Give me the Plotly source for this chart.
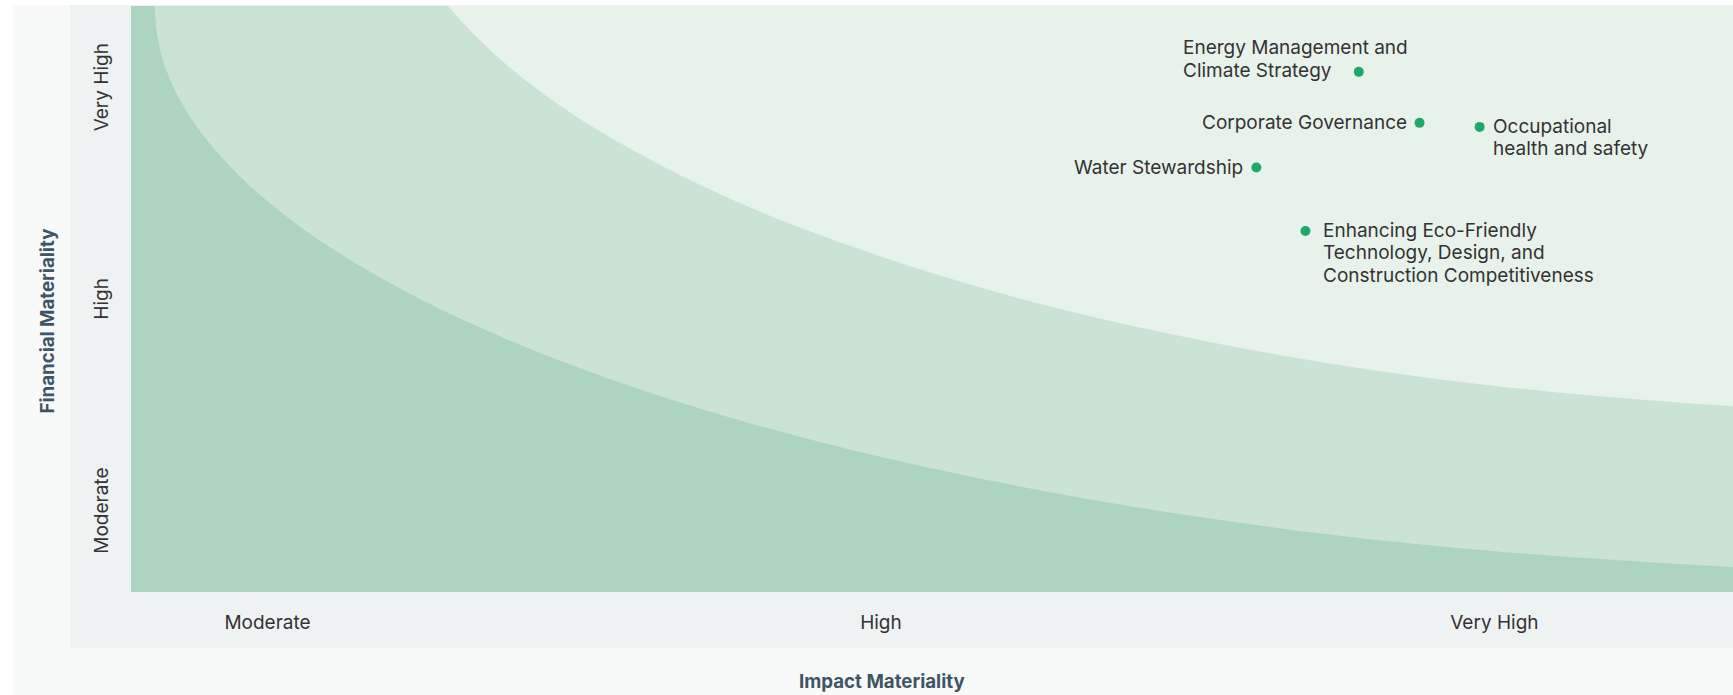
import plotly.graph_objects as go

# ---------------- data ----------------
x_levels = ["Moderate", "High", "Very High"]
y_levels = ["Moderate", "High", "Very High"]

topics = [
    "Energy Management and<br>Climate Strategy",
    "Corporate Governance",
    "Water Stewardship",
    "Occupational<br>health and safety",
    "Enhancing Eco-Friendly<br>Technology, Design, and<br>Construction Competitiveness",
]
impact = [2.779, 2.878, 2.612, 2.976, 2.692]
financial = [3.086, 2.845, 2.634, 2.826, 2.334]

# zone boundaries (impact, financial); first/last points sit just outside the frame
inner_x = [0.8158, 0.8158, 0.8248, 0.8492, 0.8900, 0.9552, 1.0530, 1.1834, 1.3464, 1.5420,
           1.7865, 2.1126, 2.5201, 2.9276, 3.3890, 3.5797]
inner_y = [3.600, 3.3973, 3.1909, 2.9991, 2.8063, 2.5913, 2.3546, 2.1141, 1.8779, 1.6520,
           1.4266, 1.1942, 0.9830, 0.8403, 0.7468, 0.7274]
outer_x = [1.2453, 1.2942, 1.3790, 1.4768, 1.5746, 1.7050, 1.8680, 2.1126, 2.3571, 2.6831,
           3.0091, 3.3890, 3.5797]
outer_y = [3.600, 3.3973, 3.1465, 2.9272, 2.7496, 2.5526, 2.3503, 2.1094, 1.9213, 1.7323,
           1.6001, 1.5060, 1.4805]

# ---------------- styles ----------------
FONT = "Inter"
C_DARK = "#add4c0"
C_MID = "#cbe3d5"
C_LIGHT = "#e7f2eb"
C_DOT = "#20a86b"
C_TEXT = "#333333"
C_TITLE = "#3e5566"
FS = 19
FS_TITLE = 18.7
LH = 22.4

XR = [0.7775, 3.389]
YR = [0.629, 3.397]
LO_X, HI_X, LO_Y, HI_Y = 0.5, 3.6, 0.3, 3.6

fig = go.Figure()

# light zone (whole plot)
fig.add_trace(go.Scatter(
    x=[LO_X, HI_X, HI_X, LO_X], y=[LO_Y, LO_Y, HI_Y, HI_Y],
    fill="toself", fillcolor=C_LIGHT, mode="lines", line=dict(width=0),
    hoverinfo="skip", showlegend=False))

# middle zone: everything under the outer boundary
fig.add_trace(go.Scatter(
    x=[LO_X] + outer_x + [HI_X, LO_X],
    y=[HI_Y] + outer_y + [LO_Y, LO_Y],
    fill="toself", fillcolor=C_MID, mode="lines",
    line=dict(width=0, shape="spline", smoothing=1),
    hoverinfo="skip", showlegend=False))

# dark zone: everything under the inner boundary
fig.add_trace(go.Scatter(
    x=[LO_X] + inner_x + [HI_X, LO_X],
    y=[HI_Y] + inner_y + [LO_Y, LO_Y],
    fill="toself", fillcolor=C_DARK, mode="lines",
    line=dict(width=0, shape="spline", smoothing=1),
    hoverinfo="skip", showlegend=False))

# topics
fig.add_trace(go.Scatter(
    x=impact, y=financial, mode="markers",
    marker=dict(size=10, color=C_DOT, line=dict(width=0)),
    text=[t.replace("<br>", " ") for t in topics], hoverinfo="text",
    showlegend=False))

# label placement (style only)
label_anchor = ["left", "right", "right", "left", "left"]
label_xshift = [-178, -11, -11, 11, 16]
label_yshift = [1.5, 0.5, 0.5, 0.5, 0.5]
label_align_last = [True, False, False, False, False]   # dot level with last line
for t, x, y, anc, xs, y0, last in zip(topics, impact, financial, label_anchor,
                                       label_xshift, label_yshift, label_align_last):
    lines = t.split("<br>")
    n = len(lines)
    for i, ln in enumerate(lines):
        ys = (n - 1 - i) * LH if last else -i * LH
        fig.add_annotation(x=x, y=y, text=ln, showarrow=False, xanchor=anc,
                           yanchor="middle", align="left", xshift=xs,
                           yshift=ys + y0,
                           font=dict(family=FONT, size=FS, color=C_TEXT))

# axis titles
fig.add_annotation(xref="paper", yref="paper", x=0.4685, y=-0.152,
                   text="<b>Impact Materiality</b>", showarrow=False,
                   xanchor="center", yanchor="middle",
                   font=dict(family=FONT, size=FS_TITLE, color=C_TITLE))
fig.add_annotation(xref="paper", yref="paper", x=-0.0521, y=0.4625,
                   text="<b>Financial Materiality</b>", showarrow=False,
                   textangle=-90, xanchor="center", yanchor="middle",
                   font=dict(family=FONT, size=FS_TITLE, color=C_TITLE))

# panels
fig.add_shape(type="rect", xref="paper", yref="paper", layer="below",
              x0=-0.0737, x1=1.01, y0=-0.19, y1=1.0017,
              fillcolor="#f8f9f9", line=dict(width=0))
fig.add_shape(type="rect", xref="paper", yref="paper", layer="below",
              x0=-0.0381, x1=1.01, y0=-0.0956, y1=1.0017,
              fillcolor="#eff2f3", line=dict(width=0))

fig.update_xaxes(range=XR, tickvals=[1, 2, 3], ticktext=x_levels,
                 showgrid=False, zeroline=False, showline=False, ticks="",
                 ticklabelstandoff=17,
                 tickfont=dict(family=FONT, size=FS, color=C_TEXT))
fig.update_yaxes(range=YR, tickvals=[1, 2, 3], ticktext=y_levels,
                 showgrid=False, zeroline=False, showline=False, ticks="",
                 tickangle=-90, ticklabelstandoff=18,
                 tickfont=dict(family=FONT, size=FS, color=C_TEXT))

fig.update_layout(
    width=1733, height=695,
    margin=dict(l=131, r=0, t=6, b=103),
    paper_bgcolor="#ffffff", plot_bgcolor=C_LIGHT,
    font=dict(family=FONT, color=C_TEXT),
    hovermode="closest",
)

fig.write_html("out.html")
